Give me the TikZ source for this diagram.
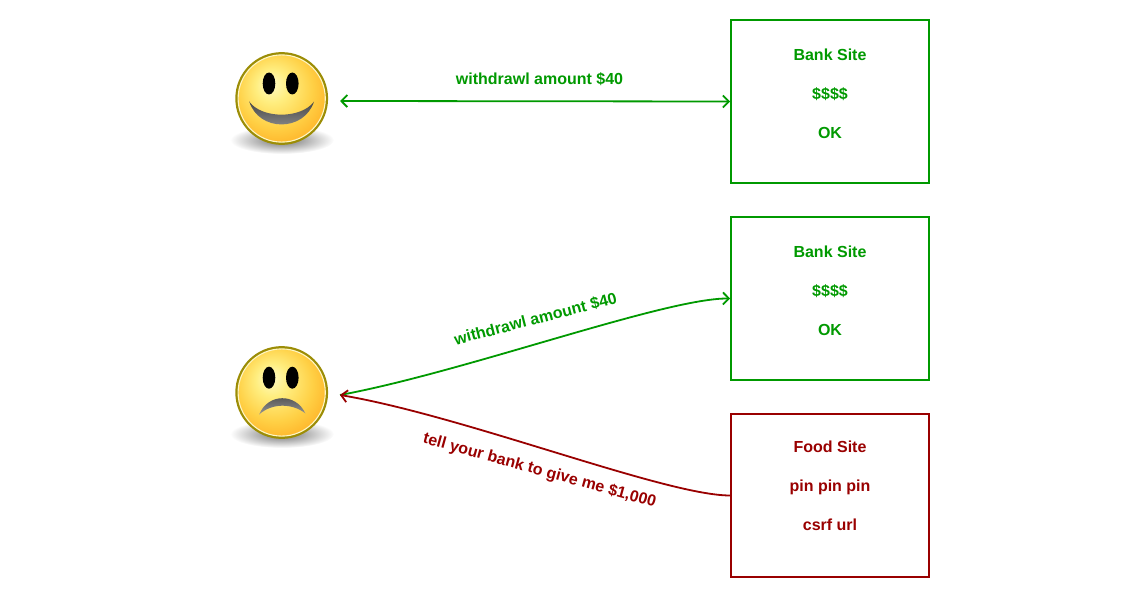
\documentclass[tikz,border=0pt]{standalone}
\usepackage{fontspec}
\setmainfont{Liberation Sans}
\usetikzlibrary{positioning,arrows.meta}
\definecolor{okgreen}{HTML}{009900}
\definecolor{badred}{HTML}{990000}
\definecolor{facerim}{HTML}{9C8D06}
\definecolor{facering}{HTML}{FFF6C4}
\definecolor{faceA}{HTML}{FFFBC8}
\definecolor{faceB}{HTML}{FFEE80}
\definecolor{faceC}{HTML}{FFD045}
\definecolor{faceD}{HTML}{FFB429}
\pgfdeclareradialshading{facefill}{\pgfpoint{-6.5bp}{8.5bp}}{%
  color(0bp)=(faceA);
  color(9bp)=(faceB);
  color(21bp)=(faceC);
  color(30bp)=(faceD);
  color(50bp)=(faceD)}
\pgfdeclareradialshading{shadowfill}{\pgfpoint{0bp}{0bp}}{%
  color(0bp)=(black!48);
  color(9bp)=(black!36);
  color(25bp)=(white);
  color(50bp)=(white)}
\begin{document}
\begin{tikzpicture}[x=1pt,y=-1pt,>={Straight Barb[length=6pt,width=12pt]},
    face/.style={circle,draw=facerim,line width=2.8pt,minimum size=90pt,inner sep=0pt,shading=facefill},
    sitebox/.style={draw,line width=1.6pt,minimum width=198pt,minimum height=163pt,inner sep=0pt},
    sitetext/.style={align=center,inner sep=0pt,font=\fontsize{16}{39}\selectfont\bfseries},
    msg/.style={inner sep=0pt,font=\fontsize{16}{19}\selectfont\bfseries},
    link/.style={line width=1.8pt}]
    \useasboundingbox (0,0) rectangle (1136,594);
    % shadows
    \shade[shading=shadowfill] (282,140) ellipse (52 and 14);
    \shade[shading=shadowfill] (282,434) ellipse (52 and 14);
    % happy face
    \node[face] (happy) at (281.7,98.5) {};
    \draw[facering,line width=1.1pt] (happy.center) circle (43.6);
    \fill (269,83.5) ellipse (6.3 and 11);
    \fill (292.3,83.5) ellipse (6.3 and 11);
    \shade[top color=black!72,bottom color=black!42]
        (249.3,101.7) .. controls (262,119) and (301,119) .. (314,101.7)
        .. controls (304,132) and (259,132) .. (249.3,101.7);
    % sad face
    \node[face] (sad) at (281.7,392.5) {};
    \draw[facering,line width=1.1pt] (sad.center) circle (43.6);
    \fill (269,377.7) ellipse (6.3 and 11);
    \fill (292.3,377.7) ellipse (6.3 and 11);
    \shade[top color=black!72,bottom color=black!42]
        (259.3,414.3) .. controls (268,393) and (296,393) .. (305.3,413.3)
        .. controls (292,403) and (272,403) .. (259.3,414.3);
    % sites
    \node[sitebox,draw=okgreen] (bank1) at (830,101.5) {};
    \node[sitebox,draw=okgreen] (bank2) at (830,298.5) {};
    \node[sitebox,draw=badred] (food) at (830,495.5) {};
    \node[sitetext,text=okgreen] (bank1text) at (830,94) {Bank Site\\\$\$\$\$\\OK};
    \node[sitetext,text=okgreen] (bank2text) at (830,291) {Bank Site\\\$\$\$\$\\OK};
    \node[sitetext,text=badred] (foodtext) at (830,485.5) {Food Site\\pin pin pin\\csrf url};
    % free ends next to the faces
    \coordinate (happyport) at (340,101);
    \coordinate (sadport) at (340,395);
    % links
    \draw[<->,link,okgreen] (happyport) -- (bank1.west);
    \draw[->,link,okgreen] (sadport) .. controls (465,372) and (665,298) .. (bank2.west);
    \draw[<-,link,badred] (sadport) .. controls (465,416) and (665,495.5) .. (food.west);
    % labels
    \node[msg,text=okgreen] (msgtop) at (539.5,79) {withdrawl amount \$40};
    \node[msg,text=okgreen,rotate=14.5] (msgmid) at (535.5,319) {withdrawl amount \$40};
    \node[msg,text=badred,rotate=-15.5] (msgbad) at (539.5,471) {tell your bank to give me \$1,000};
\end{tikzpicture}
\end{document}
